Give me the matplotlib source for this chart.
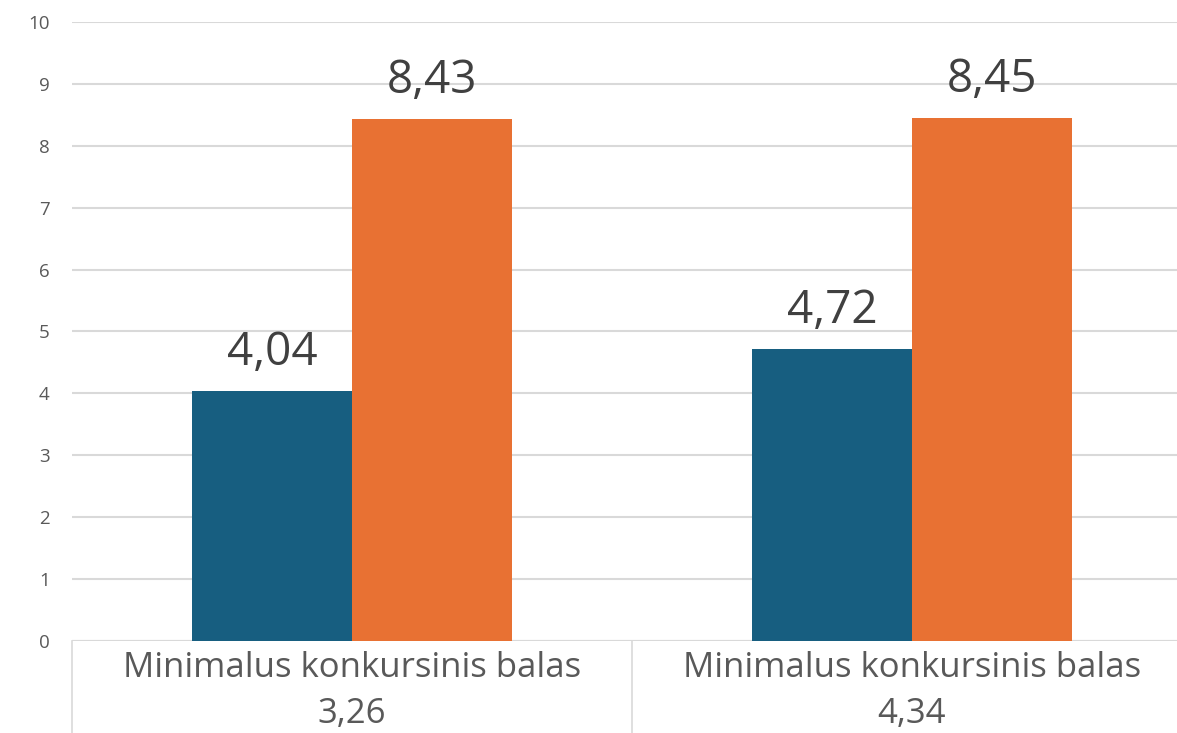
import matplotlib.pyplot as plt
import numpy as np

categories = ['Minimalus konkursinis balas\n3,26', 'Minimalus konkursinis balas\n4,34']
series_blue = [4.04, 4.72]
series_orange = [8.43, 8.45]
yticks = list(range(0, 11))

plt.rcParams['font.family'] = ['Open Sans', 'DejaVu Sans']

fig = plt.figure(figsize=(11.77, 7.33), dpi=100)
# plot area runs past the right edge, like the cropped original
ax = fig.add_axes([72 / 1177, 1 - 641 / 733, 1120 / 1177, (641 - 22) / 733])

x = np.arange(len(categories))
w = 0.2857
c_blue = '#175E80'
c_orange = '#E87133'
grid_c = '#D9D9D9'
txt_c = '#595959'

b1 = ax.bar(x - w / 2, series_blue, w, color=c_blue, zorder=3)
b2 = ax.bar(x + w / 2, series_orange, w, color=c_orange, zorder=3)

for bars in (b1, b2):
    for r in bars:
        h = r.get_height()
        ax.annotate('{:.2f}'.format(h).replace('.', ','), (r.get_x() + r.get_width() / 2, h),
                    xytext=(0, 11), textcoords='offset points', ha='center', va='bottom',
                    fontsize=33, color='#404040')

ax.set_xlim(-0.5, 1.5)
ax.set_ylim(0, 10)
ax.set_yticks(yticks)
ax.set_yticklabels([str(t) for t in yticks])
ax.yaxis.grid(True, color=grid_c, linewidth=1.5, zorder=0)
ax.tick_params(axis='y', length=0, pad=16, labelsize=13.5, labelcolor=txt_c)
for s in ax.spines.values():
    s.set_visible(False)

ax.set_xticks([])
for i, c in enumerate(categories):
    ax.text(i, -0.016, c, transform=ax.get_xaxis_transform(), ha='center', va='top',
            fontsize=25, color=txt_c, linespacing=1.45)

# category separators below the axis
for xs in (-0.5, 0.5, 1.5):
    ax.plot([xs, xs], [0, -0.16], transform=ax.get_xaxis_transform(),
            color=grid_c, linewidth=1.2, clip_on=False)
ax.axhline(0, color=grid_c, linewidth=1.5, zorder=1)

fig.savefig('out.png', dpi=100)
